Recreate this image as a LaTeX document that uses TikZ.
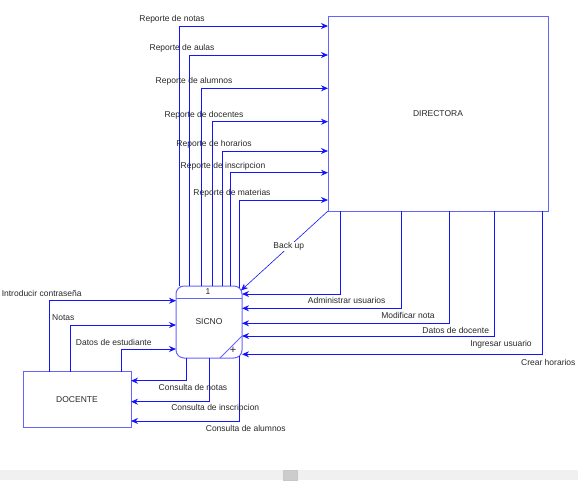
\documentclass[tikz,border=0pt]{standalone}
\usepackage{fontspec}
\setmainfont{Liberation Sans}
\usetikzlibrary{arrows.meta}
\definecolor{ln}{RGB}{20,20,255}
\definecolor{bx}{RGB}{100,100,255}
\definecolor{tx}{RGB}{40,40,40}
\begin{document}
\begin{tikzpicture}[x=1pt,y=-1pt,
  flow/.style={draw=ln,line width=0.9pt,-{Stealth[length=7pt,width=6pt]}},
  boxst/.style={draw=bx,line width=1pt,inner sep=0pt,outer sep=0pt,font=\fontsize{8.5}{10}\selectfont,text=tx},
  lbl/.style={font=\fontsize{8.5}{10}\selectfont,text=tx,inner sep=0.5pt}]
\useasboundingbox (0,0) rectangle (578,480);
\fill[white] (0,0) rectangle (578,470);
\fill[black!6] (0,470) rectangle (578,480);
\draw[black!22,fill=black!20] (283,470.5) rectangle (297,480);
% nodes
\node[boxst,minimum width=220pt,minimum height=195pt] (dir) at (438,113.5) {DIRECTORA};
\node[boxst,rounded corners=8pt,minimum width=66pt,minimum height=72pt] (sicno) at (209,322) {SICNO};
\node[boxst,minimum width=108pt,minimum height=56pt] (doc) at (77,399.5) {DOCENTE};
\draw[bx,line width=1pt] (sicno.west |- 0,298) -- (sicno.east |- 0,298);
\node[lbl] (num) at (208,291.8) {1};
\draw[bx,line width=1pt] (sicno.east |- 0,336) -- (sicno.south -| 220,0);
\node[lbl,font=\fontsize{11}{12}\selectfont] (plus) at (233,350.5) {+};
% top flows to DIRECTORA
\draw[flow] (sicno.north -| 179.3,0) |- (dir.west |- 0,26);
\draw[flow] (sicno.north -| 189.3,0) |- (dir.west |- 0,55);
\draw[flow] (sicno.north -| 201,0) |- (dir.west |- 0,88.3);
\draw[flow] (sicno.north -| 212,0) |- (dir.west |- 0,121.7);
\draw[flow] (sicno.north -| 222,0) |- (dir.west |- 0,151);
\draw[flow] (sicno.north -| 230.7,0) |- (dir.west |- 0,172.7);
\draw[flow] (239.3,288) |- (dir.west |- 0,200);
\node[lbl] (l1) at (172,19.3) {Reporte de notas};
\node[lbl] (l2) at (182,48.3) {Reporte de aulas};
\node[lbl] (l3) at (194,81.7) {Reporte de alumnos};
\node[lbl] (l4) at (204,115) {Reporte de docentes};
\node[lbl] (l5) at (214,144.3) {Reporte de horarios};
\node[lbl] (l6) at (223,166) {Reporte de inscripcion};
\node[lbl] (l7) at (232,193.3) {Reporte de materias};
% back up
\draw[flow,line width=0.6pt] (dir.south west) -- node[pos=0.45,lbl,fill=white] (lbk) {Back up} (241,290.5);
% right flows into SICNO
\draw[flow] (dir.south -| 340,0) |- (sicno.east |- 0,294);
\draw[flow] (dir.south -| 401,0) |- (sicno.east |- 0,308.3);
\draw[flow] (dir.south -| 449.3,0) |- (sicno.east |- 0,323.3);
\draw[flow] (dir.south -| 494.3,0) |- (sicno.east |- 0,336);
\draw[flow] (dir.south -| 542.3,0) |- (sicno.east |- 0,354.3);
\node[lbl] (r1) at (346.7,300.3) {Administrar usuarios};
\node[lbl] (r2) at (408,315.7) {Modificar nota};
\node[lbl] (r3) at (455.7,330) {Datos de docente};
\node[lbl] (r4) at (501,344) {Ingresar usuario};
\node[lbl] (r5) at (548.3,362) {Crear horarios};
% left flows DOCENTE -> SICNO
\draw[flow] (doc.north -| 49.3,0) |- (sicno.west |- 0,300.7);
\draw[flow] (doc.north -| 70,0) |- (sicno.west |- 0,325);
\draw[flow] (doc.north -| 121.7,0) |- (sicno.west |- 0,349);
\node[lbl] (d1) at (41.7,293.3) {Introducir contraseña};
\node[lbl] (d2) at (63.3,317.7) {Notas};
\node[lbl] (d3) at (113.8,342) {Datos de estudiante};
% bottom flows SICNO -> DOCENTE
\draw[flow] (sicno.south -| 186,0) |- (doc.east |- 0,380.7);
\draw[flow] (sicno.south -| 209.3,0) |- (doc.east |- 0,401.7);
\draw[flow] (239.3,356) |- (doc.east |- 0,421);
\node[lbl] (c1) at (193,387.7) {Consulta de notas};
\node[lbl] (c2) at (215.3,408.7) {Consulta de inscripcion};
\node[lbl] (c3) at (245.8,428.3) {Consulta de alumnos};
\end{tikzpicture}
\end{document}
